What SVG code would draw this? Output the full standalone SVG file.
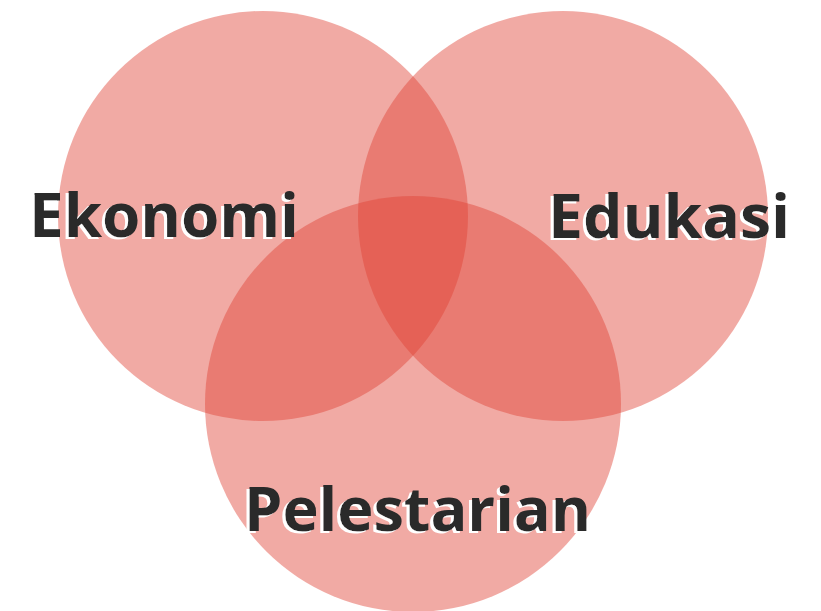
<svg xmlns="http://www.w3.org/2000/svg" width="821" height="611" viewBox="0 0 821 611">
  <defs>
    <!-- white offset copy behind each label -->
    <filter id="whiteShade" x="-5%" y="-20%" width="110%" height="140%">
      <feOffset in="SourceAlpha" dx="-3" dy="2" result="off"/>
      <feFlood flood-color="#ffffff"/>
      <feComposite in2="off" operator="in" result="shade"/>
      <feMerge>
        <feMergeNode in="shade"/>
        <feMergeNode in="SourceGraphic"/>
      </feMerge>
    </filter>
  </defs>
  <style>
    .set { fill: #DF4235; fill-opacity: 0.45; }
    .label { font-family: "Open Sans", "Liberation Sans", sans-serif; font-weight: 700; font-size: 60px; fill: #2a2a2a; filter: url(#whiteShade); }
  </style>
  <rect width="821" height="611" fill="#ffffff"/>
  <g id="ekonomi">
    <circle class="set" cx="263" cy="216" r="205"/>
  </g>
  <g id="edukasi">
    <circle class="set" cx="563" cy="216" r="205"/>
  </g>
  <g id="pelestarian">
    <circle class="set" cx="413" cy="404" r="208"/>
  </g>
  <g id="labels">
    <text class="label" x="29" y="237" textLength="270" lengthAdjust="spacingAndGlyphs">Ekonomi</text>
    <text class="label" x="548" y="238" textLength="242" lengthAdjust="spacingAndGlyphs">Edukasi</text>
    <text class="label" x="244" y="531" textLength="347" lengthAdjust="spacingAndGlyphs">Pelestarian</text>
  </g>
</svg>
